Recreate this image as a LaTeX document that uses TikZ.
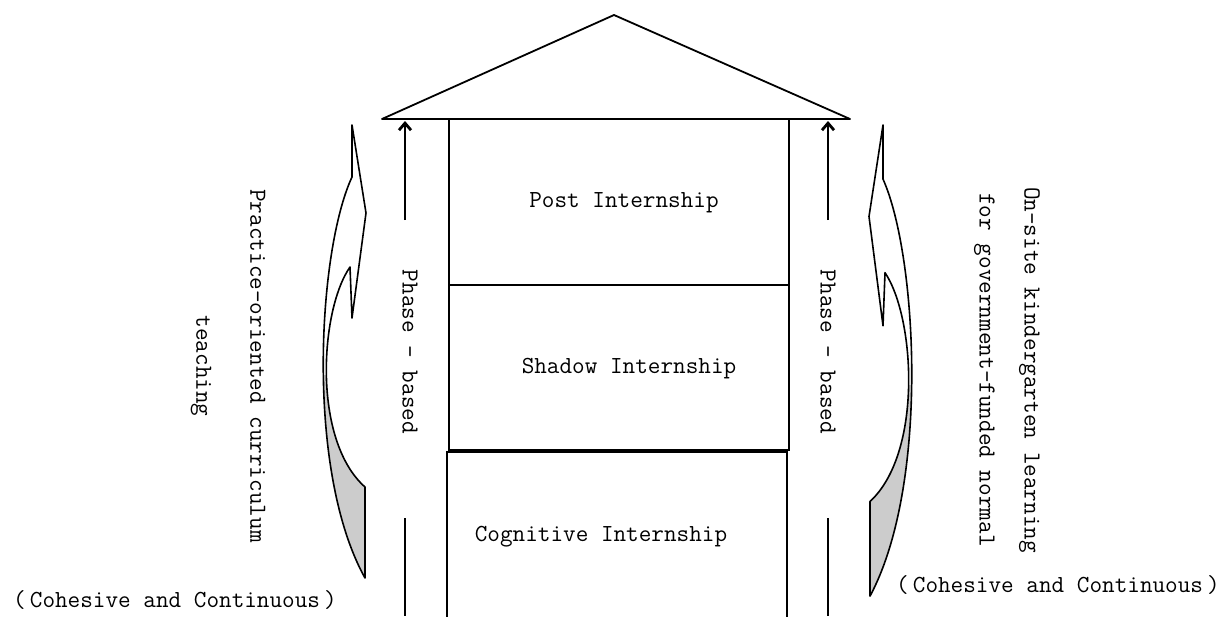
\documentclass[tikz,border=0pt]{standalone}
\usepackage{fontspec}
\usetikzlibrary{arrows.meta}
\newcommand{\txtfont}{\fontsize{24.5}{28}\selectfont\ttfamily}
\newcommand{\bandpath}{(0,0) -- (14,88) -- (0,193) -- (-2,142)
  .. controls (-32,185) and (-40,315) .. (13,362) -- (13,453)
  .. controls (-47,345) and (-34,125) .. (0,52) -- cycle}
\newcommand{\bandarrow}[1]{%
  \begin{scope}[#1]
    \fill[white] \bandpath;
    \begin{scope}
      \clip (-60,250) rectangle (40,470);
      \fill[gray!40] \bandpath;
    \end{scope}
    \draw[line width=1.6pt, line join=round] \bandpath;
  \end{scope}}
\begin{document}
\begin{tikzpicture}[x=1pt, y=-1pt,
    every node/.style={font=\txtfont},
    frame/.style={line width=1.8pt},
    phasearrow/.style={line width=2.8pt, -{Straight Barb[length=7pt,width=12pt]}},
    phaseline/.style={line width=2.8pt}]

    \useasboundingbox (0,0) rectangle (1228,616);

    % roof
    \draw[frame, line join=round] (382,119) -- (614,15) -- (850,119) -- cycle;

    % the three internship stages
    \draw[frame] (449,119) rectangle (789,285);
    \draw[frame] (449,285) rectangle (789,450);
    \draw[frame] (447,620) -- (447,452) -- (787,452) -- (787,620);

    \node (post) at (624,203) {Post Internship};
    \node (shadow) at (629,369) {Shadow Internship};
    \node (cognitive) at (601,537) {Cognitive Internship};

    % phase-based arrows
    \coordinate (lbot) at (405,220);
    \coordinate (ltop) at (405,121);
    \coordinate (rbot) at (828,220);
    \coordinate (rtop) at (828,121);
    \draw[phasearrow] (lbot) -- (ltop);
    \draw[phasearrow] (rbot) -- (rtop);

    \coordinate (llow1) at (405,518);
    \coordinate (llow2) at (405,616);
    \coordinate (rlow1) at (828,518);
    \coordinate (rlow2) at (828,616);
    \draw[phaseline] (llow1) -- (llow2);
    \draw[phaseline] (rlow1) -- (rlow2);

    \node[rotate=-90] (lphase) at (410,352) {Phase - based};
    \node[rotate=-90] (rphase) at (828,352) {Phase - based};

    % curved side arrows
    \bandarrow{shift={(352,125)}}
    \bandarrow{shift={(883,125)}, xscale=-1, yscale=1.04}

    % side labels
    \node[rotate=-90, align=center, font=\fontsize{24.5}{54}\selectfont\ttfamily]
      (ltext) at (228,366) {Practice-oriented curriculum\\teaching};
    \node[rotate=-90, align=center, font=\fontsize{24.5}{45}\selectfont\ttfamily]
      (rtext) at (1007,370) {On-site kindergarten learning\\for government-funded normal};

    \node (lcont) at (175,600) {(\,Cohesive and Continuous\,)};
    \node (rcont) at (1058,585) {(\,Cohesive and Continuous\,)};

  \end{tikzpicture}
\end{document}
